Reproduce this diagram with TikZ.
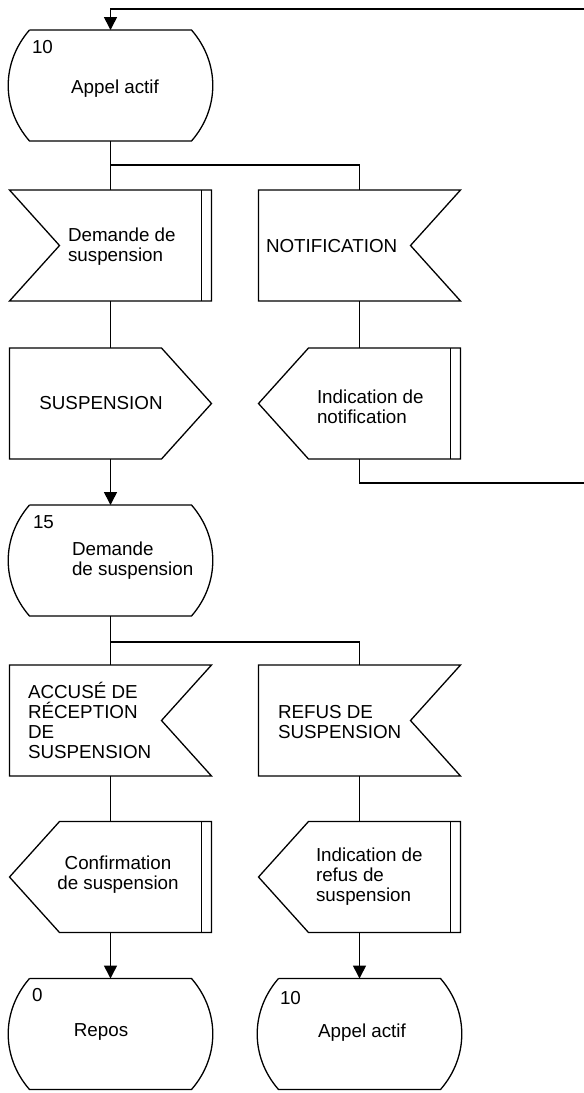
\documentclass[tikz,border=0pt]{standalone}
\usepackage{fontspec}
\setmainfont{Liberation Sans}
\usetikzlibrary{arrows.meta,calc}

% SDL symbol outlines, drawn around an empty rectangular node
\newcommand\sdlState[1]{%
  \draw (#1.north west) -- (#1.north east) to[bend left=41] (#1.south east)
        -- (#1.south west) to[bend left=41] (#1.north west);}
\newcommand\sdlInLeft[1]{%
  \draw (#1.north west) -- (#1.north east) -- (#1.south east) -- (#1.south west)
        -- ($(#1.west)+(50,0)$) -- cycle;
  \draw ($(#1.north east)+(-10,0)$) -- ($(#1.south east)+(-10,0)$);}
\newcommand\sdlInRight[1]{%
  \draw (#1.north west) -- (#1.north east) -- ($(#1.east)+(-50,0)$)
        -- (#1.south east) -- (#1.south west) -- cycle;}
\newcommand\sdlOutRight[1]{%
  \draw (#1.north west) -- ($(#1.north east)+(-50,0)$) -- (#1.east)
        -- ($(#1.south east)+(-50,0)$) -- (#1.south west) -- cycle;}
\newcommand\sdlOutLeft[1]{%
  \draw (#1.west) -- ($(#1.north west)+(50,0)$) -- (#1.north east)
        -- (#1.south east) -- ($(#1.south west)+(50,0)$) -- cycle;
  \draw ($(#1.north east)+(-10,0)$) -- ($(#1.south east)+(-10,0)$);}

\begin{document}
\begin{tikzpicture}[x=1pt,y=-1pt,
  line width=1.3pt, line join=miter,
  every node/.style={inner sep=0pt,outer sep=0pt},
  frame/.style={minimum width=202pt,minimum height=111pt},
  statebox/.style={minimum width=162pt,minimum height=111pt},
  lbl/.style={font=\fontsize{18.8}{20}\selectfont,align=left},
  arr/.style={line width=1.6pt,-{Triangle[length=13pt,width=13pt]}},
]
\useasboundingbox (0,0) rectangle (584,1093);

% symbol frames
\node[statebox] (st10)   at (110.5,85.5)  {};
\node[frame]    (dem)    at (110.5,245.5) {};
\node[frame]    (notif)  at (359.5,245.5) {};
\node[frame]    (susp)   at (110.5,403.5) {};
\node[frame]    (indnot) at (359.5,403.5) {};
\node[statebox] (st15)   at (110.5,560.5) {};
\node[frame]    (acc)    at (110.5,720.5) {};
\node[frame]    (ref)    at (359.5,720.5) {};
\node[frame]    (conf)   at (110.5,877)   {};
\node[frame]    (indref) at (359.5,877)   {};
\node[statebox] (repos)  at (110.5,1034)  {};
\node[statebox] (st10b)  at (359.5,1034)  {};

\sdlState{st10}
\sdlInLeft{dem}
\sdlInRight{notif}
\sdlOutRight{susp}
\sdlOutLeft{indnot}
\sdlState{st15}
\sdlInRight{acc}
\sdlInRight{ref}
\sdlOutLeft{conf}
\sdlOutLeft{indref}
\sdlState{repos}
\sdlState{st10b}

% labels
\node[lbl,anchor=west] (n10)    at (32,47)   {10};
\node[lbl]             (t10)    at (115,89)  {Appel actif};
\node[lbl,anchor=west] (tdem)   at (68,247)  {Demande de\\suspension};
\node[lbl,anchor=west] (tnotif) at (266,246) {NOTIFICATION};
\node[lbl]             (tsusp)  at (101,403) {SUSPENSION};
\node[lbl,anchor=west] (tind)   at (317,407) {Indication de\\notification};
\node[lbl,anchor=west] (n15)    at (33,522)  {15};
\node[lbl,anchor=west] (t15)    at (72,561)  {Demande\\de suspension};
\node[lbl,anchor=west] (tacc)   at (28,720)  {ACCUSÉ DE\\RÉCEPTION\\DE\\SUSPENSION};
\node[lbl,anchor=west] (tref)   at (278,722) {REFUS DE\\SUSPENSION};
\node[lbl,align=center](tconf)  at (118,875) {Confirmation\\de suspension};
\node[lbl,anchor=west] (tindr)  at (316,877) {Indication de\\refus de\\suspension};
\node[lbl,anchor=west] (n0)     at (32,995)  {0};
\node[lbl]             (trep)   at (101,1032){Repos};
\node[lbl,anchor=west] (n10b)   at (280,998) {10};
\node[lbl]             (t10b)   at (362,1033){Appel actif};

% connectors
\coordinate (loopin)  at (584,9);
\coordinate (loopout) at (584,483);
\draw[arr] (loopin) -| (st10.north);
\draw (st10.south) -- (dem.north);
\draw (st10.south) -- ++(0,24) -| (notif.north);
\draw (dem.south) -- (susp.north);
\draw (notif.south) -- (indnot.north);
\draw (indnot.south) |- (loopout);
\draw[arr] (susp.south) -- (st15.north);
\draw (st15.south) -- (acc.north);
\draw (st15.south) -- ++(0,26) -| (ref.north);
\draw (acc.south) -- (conf.north);
\draw (ref.south) -- (indref.north);
\draw[arr] (conf.south) -- (repos.north);
\draw[arr] (indref.south) -- (st10b.north);
\end{tikzpicture}
\end{document}
